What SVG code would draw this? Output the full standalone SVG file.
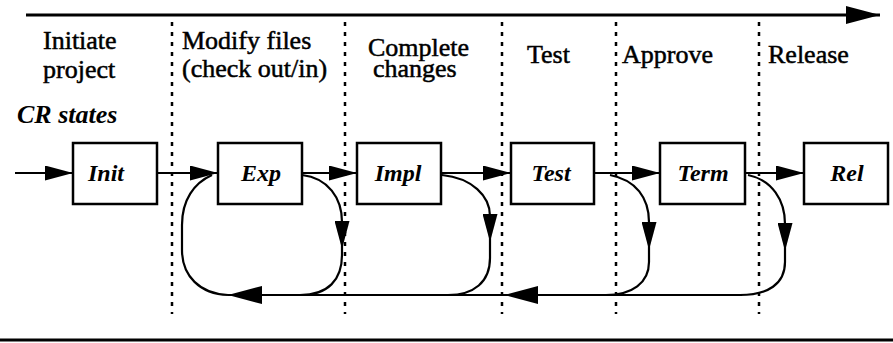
<svg xmlns="http://www.w3.org/2000/svg" width="893" height="343" viewBox="0 0 893 343">
  <style>
    .phase { font-family: "Liberation Serif", "Times New Roman", serif; font-size: 26px; fill: #000; stroke: #000; stroke-width: 0.5; }
    .state { font-family: "Liberation Serif", "Times New Roman", serif; font-size: 24px; font-weight: bold; font-style: italic; fill: #000; text-anchor: middle; }
    .caption { font-family: "Liberation Serif", "Times New Roman", serif; font-size: 26px; font-weight: bold; font-style: italic; fill: #000; }
    .box { fill: #fff; stroke: #000; stroke-width: 2.5; }
    .line { fill: none; stroke: #000; stroke-width: 2.2; }
    .rule { fill: none; stroke: #000; stroke-width: 3; }
    .divider { fill: none; stroke: #000; stroke-width: 2.5; stroke-dasharray: 4 6; }
  </style>
  <defs>
    <marker id="arrow" markerUnits="userSpaceOnUse" viewBox="0 0 28 15" refX="28" refY="7.5" markerWidth="28" markerHeight="15" orient="auto">
      <path d="M0,0 L28,7.5 L0,15 Z" fill="#000"/>
    </marker>
    <marker id="arrow-lg" markerUnits="userSpaceOnUse" viewBox="0 0 34 18" refX="34" refY="9" markerWidth="34" markerHeight="18" orient="auto">
      <path d="M0,0 L34,9 L0,18 Z" fill="#000"/>
    </marker>
  </defs>

  <!-- time axis and bottom rule -->
  <g id="frame">
    <path class="rule" d="M26,15 L880,15" marker-end="url(#arrow-lg)"/>
    <path class="rule" d="M0,340 L893,340"/>
  </g>

  <!-- phase dividers -->
  <g id="dividers">
    <path class="divider" d="M172,22 L172,314"/>
    <path class="divider" d="M345,22 L345,314"/>
    <path class="divider" d="M502,22 L502,314"/>
    <path class="divider" d="M616,22 L616,314"/>
    <path class="divider" d="M759,22 L759,314"/>
  </g>

  <!-- phase headings -->
  <g id="phases">
    <text class="phase" x="43" y="49">Initiate</text>
    <text class="phase" x="43" y="78">project</text>
    <text class="phase" x="182" y="49">Modify files</text>
    <text class="phase" x="182" y="77">(check out/in)</text>
    <text class="phase" x="368" y="56">Complete</text>
    <text class="phase" x="373" y="77">changes</text>
    <text class="phase" x="527" y="63">Test</text>
    <text class="phase" x="622" y="63">Approve</text>
    <text class="phase" x="768" y="63">Release</text>
    <text class="caption" x="17" y="123">CR states</text>
  </g>

  <!-- connectors -->
  <g id="connectors">
    <!-- forward transitions -->
    <path class="line" d="M15,173 L73,173" marker-end="url(#arrow)"/>
    <path class="line" d="M157,173 L218,173" marker-end="url(#arrow)"/>
    <path class="line" d="M302,173 L357,173" marker-end="url(#arrow)"/>
    <path class="line" d="M441,173 L511,173" marker-end="url(#arrow)"/>
    <path class="line" d="M594,173 L660,173" marker-end="url(#arrow)"/>
    <path class="line" d="M745,173 L804,173" marker-end="url(#arrow)"/>

    <!-- rework loops: branch down -->
    <path class="line" d="M302,175 C328,178 342,198 342,222 L342,249" marker-end="url(#arrow)"/>
    <path class="line" d="M342,249 L342,255 C342,280 328,295 300,295"/>
    <path class="line" d="M442,175 C472,178 490,196 490,216 L490,242" marker-end="url(#arrow)"/>
    <path class="line" d="M490,242 L490,258 C490,282 474,295 448,295"/>
    <path class="line" d="M610,175 C636,180 649,198 649,222 L649,250" marker-end="url(#arrow)"/>
    <path class="line" d="M649,250 L649,262 C649,283 632,295 606,295"/>
    <path class="line" d="M748,175 C772,180 785,200 785,224 L785,251" marker-end="url(#arrow)"/>
    <path class="line" d="M785,251 L785,262 C785,284 768,295 740,295"/>

    <!-- return path back to Exp -->
    <path class="line" d="M742,295 L504,295" marker-end="url(#arrow-lg)"/>
    <path class="line" d="M535,295 L228,295" marker-end="url(#arrow-lg)"/>
    <path class="line" d="M228,295 C200,294 182,276 182,250 L182,225 C182,200 194,183 212,175"/>
  </g>

  <!-- state nodes -->
  <g id="node-init">
    <rect class="box" x="73" y="143" width="84" height="61"/>
    <text class="state" x="106" y="181">Init</text>
  </g>
  <g id="node-exp">
    <rect class="box" x="218" y="143" width="84" height="61"/>
    <text class="state" x="261" y="181">Exp</text>
  </g>
  <g id="node-impl">
    <rect class="box" x="357" y="143" width="84" height="61"/>
    <text class="state" x="398" y="181">Impl</text>
  </g>
  <g id="node-test">
    <rect class="box" x="511" y="143" width="83" height="61"/>
    <text class="state" x="551" y="181">Test</text>
  </g>
  <g id="node-term">
    <rect class="box" x="660" y="143" width="85" height="61"/>
    <text class="state" x="703" y="181">Term</text>
  </g>
  <g id="node-rel">
    <rect class="box" x="804" y="143" width="84" height="61"/>
    <text class="state" x="847" y="181">Rel</text>
  </g>
</svg>
